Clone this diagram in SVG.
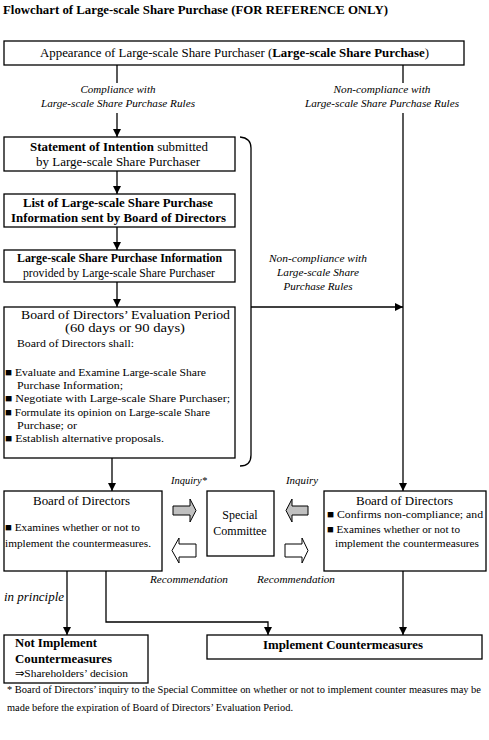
<svg xmlns="http://www.w3.org/2000/svg" width="489" height="740" viewBox="0 0 489 740" font-family="'Liberation Serif', 'Times New Roman', serif">
<defs>
<marker id="ah" markerUnits="userSpaceOnUse" markerWidth="9" markerHeight="9" refX="8" refY="4" orient="auto">
<path d="M0,0 L8,4 L0,8 z" fill="#000"/>
</marker>
<style>
text{font-family:'Liberation Serif','Times New Roman',serif;fill:#000}
.box{fill:#fff;stroke:#000;stroke-width:1.3}
.ln{fill:none;stroke:#000;stroke-width:1.3}
.ar{marker-end:url(#ah)}
.t{font-size:12px}
.b{font-weight:bold}
.c{text-anchor:middle}
.i{font-style:italic;font-size:10px}
.s{font-size:11px}
.f{font-size:10px}
.g{fill:#c0c0c0;stroke:#000;stroke-width:1}
.w{fill:#fff;stroke:#000;stroke-width:1}
</style>
</defs>
<rect width="489" height="740" fill="#fff"/>
<text x="3" y="14" font-size="13" font-weight="bold" textLength="385" lengthAdjust="spacingAndGlyphs">Flowchart of Large-scale Share Purchase (FOR REFERENCE ONLY)</text>

<g id="connectors">
<path class="ln" d="M117,65 V83"/>
<path class="ln ar" d="M117,113 V137"/>
<path class="ln" d="M403,65 V83"/>
<path class="ln ar" d="M403,113 V491"/>
<path class="ln ar" d="M117,171 V194"/>
<path class="ln ar" d="M117,227 V250"/>
<path class="ln ar" d="M117,282 V307"/>
<path class="ln" d="M240,137 Q251,138 251,148 V455 Q251,466 240,466"/>
<path class="ln ar" d="M251,307 H403"/>
<path class="ln ar" d="M112,458 V491"/>
<path class="ln ar" d="M67,571 V635"/>
<path class="ln ar" d="M106,571 V622 H268 V635"/>
<path class="ln ar" d="M403,571 V635"/>
<polygon class="g" points="173,506 190,506 190,499 196,510.5 190,522 190,515 173,515"/>
<polygon class="g" points="308,506 292,506 292,499 286,510.5 292,522 292,515 308,515"/>
<polygon class="w" points="196,544 179,544 179,538 172,550.5 179,563 179,557 196,557"/>
<polygon class="w" points="285,544 302,544 302,538 308,550.5 302,563 302,557 285,557"/>
<text class="i c" x="118" y="93" textLength="75" lengthAdjust="spacingAndGlyphs">Compliance with</text>
<text class="i c" x="118" y="107" textLength="154" lengthAdjust="spacingAndGlyphs">Large-scale Share Purchase Rules</text>
<text class="i c" x="382" y="93" textLength="97" lengthAdjust="spacingAndGlyphs">Non-compliance with</text>
<text class="i c" x="382" y="107" textLength="154" lengthAdjust="spacingAndGlyphs">Large-scale Share Purchase Rules</text>
<text class="i c" x="318" y="262" textLength="98" lengthAdjust="spacingAndGlyphs">Non-compliance with</text>
<text class="i c" x="318" y="276" textLength="82" lengthAdjust="spacingAndGlyphs">Large-scale Share</text>
<text class="i c" x="318" y="290" textLength="69" lengthAdjust="spacingAndGlyphs">Purchase Rules</text>
<text class="i" x="171" y="484" textLength="36" lengthAdjust="spacingAndGlyphs">Inquiry*</text>
<text class="i" x="286" y="484" textLength="32" lengthAdjust="spacingAndGlyphs">Inquiry</text>
<text class="i" x="150" y="583" textLength="78" lengthAdjust="spacingAndGlyphs">Recommendation</text>
<text class="i" x="257" y="583" textLength="78" lengthAdjust="spacingAndGlyphs">Recommendation</text>
<text x="4" y="601" font-size="12" font-style="italic" textLength="60" lengthAdjust="spacingAndGlyphs">in principle</text>
</g>

<g id="appearance">
<rect class="box" x="4" y="41" width="460" height="24"/>
<text class="t" x="40" y="57" textLength="389" lengthAdjust="spacingAndGlyphs">Appearance of Large-scale Share Purchaser (<tspan class="b">Large-scale Share Purchase</tspan>)</text>
</g>

<g id="statement">
<rect class="box" x="4" y="137" width="231" height="34"/>
<text class="t" x="30" y="151" textLength="178" lengthAdjust="spacingAndGlyphs"><tspan class="b">Statement of Intention</tspan> submitted</text>
<text class="t" x="36" y="166" textLength="164" lengthAdjust="spacingAndGlyphs">by Large-scale Share Purchaser</text>
</g>

<g id="list">
<rect class="box" x="4" y="194" width="231" height="33"/>
<text class="t b" x="23" y="207" textLength="190" lengthAdjust="spacingAndGlyphs">List of Large-scale Share Purchase</text>
<text class="t b" x="11" y="222" textLength="215" lengthAdjust="spacingAndGlyphs">Information sent by Board of Directors</text>
</g>

<g id="info">
<rect class="box" x="4" y="250" width="231" height="32"/>
<text class="t b" x="17" y="262" textLength="205" lengthAdjust="spacingAndGlyphs">Large-scale Share Purchase Information</text>
<text class="t" x="23" y="277" textLength="192" lengthAdjust="spacingAndGlyphs">provided by Large-scale Share Purchaser</text>
</g>

<g id="evaluation">
<rect class="box" x="4" y="307" width="231" height="151"/>
<text class="t" x="21" y="319" textLength="209" lengthAdjust="spacingAndGlyphs">Board of Directors’ Evaluation Period</text>
<text class="t" x="65" y="332" textLength="120" lengthAdjust="spacingAndGlyphs">(60 days or 90 days)</text>
<text class="s" x="17" y="347" textLength="117" lengthAdjust="spacingAndGlyphs">Board of Directors shall:</text>
<text class="s" x="5" y="376" textLength="201" lengthAdjust="spacingAndGlyphs">■ Evaluate and Examine Large-scale Share</text>
<text class="s" x="17" y="389" textLength="106" lengthAdjust="spacingAndGlyphs">Purchase Information;</text>
<text class="s" x="5" y="402" textLength="225" lengthAdjust="spacingAndGlyphs">■ Negotiate with Large-scale Share Purchaser;</text>
<text class="s" x="5" y="416" textLength="205" lengthAdjust="spacingAndGlyphs">■ Formulate its opinion on Large-scale Share</text>
<text class="s" x="17" y="429" textLength="60" lengthAdjust="spacingAndGlyphs">Purchase; or</text>
<text class="s" x="5" y="442" textLength="159" lengthAdjust="spacingAndGlyphs">■ Establish alternative proposals.</text>
</g>

<g id="board-left">
<rect class="box" x="4" y="491" width="158" height="80"/>
<text class="t" x="33" y="505" textLength="97" lengthAdjust="spacingAndGlyphs">Board of Directors</text>
<text class="s" x="5" y="531" textLength="135" lengthAdjust="spacingAndGlyphs">■ Examines whether or not to</text>
<text class="s" x="5" y="547" textLength="146" lengthAdjust="spacingAndGlyphs">implement the countermeasures.</text>
</g>

<g id="special-committee">
<rect class="box" x="207" y="491" width="67" height="65"/>
<text class="t c" x="240" y="519">Special</text>
<text class="t c" x="240" y="535">Committee</text>
</g>

<g id="board-right">
<rect class="box" x="324" y="491" width="162" height="80"/>
<text class="t" x="356" y="505" textLength="97" lengthAdjust="spacingAndGlyphs">Board of Directors</text>
<text class="s" x="327" y="518" textLength="156" lengthAdjust="spacingAndGlyphs">■ Confirms non-compliance; and</text>
<text class="s" x="327" y="533" textLength="133" lengthAdjust="spacingAndGlyphs">■ Examines whether or not to</text>
<text class="s" x="335" y="547" textLength="144" lengthAdjust="spacingAndGlyphs">implement the countermeasures</text>
</g>

<g id="not-implement">
<rect class="box" x="4" y="635" width="144" height="48"/>
<text class="t b" x="15" y="647" textLength="82" lengthAdjust="spacingAndGlyphs">Not Implement</text>
<text class="t b" x="15" y="663" textLength="97" lengthAdjust="spacingAndGlyphs">Countermeasures</text>
<text class="s" x="15" y="677" textLength="113" lengthAdjust="spacingAndGlyphs">⇒Shareholders’ decision</text>
</g>

<g id="implement">
<rect class="box" x="207" y="635" width="275" height="24"/>
<text class="t b" x="263" y="649" textLength="160" lengthAdjust="spacingAndGlyphs">Implement Countermeasures</text>
</g>

<text class="f" x="7" y="693" textLength="474" lengthAdjust="spacingAndGlyphs">* Board of Directors’ inquiry to the Special Committee on whether or not to implement counter measures  may be</text>
<text class="f" x="7" y="711" textLength="286" lengthAdjust="spacingAndGlyphs">made before the expiration of Board of Directors’ Evaluation Period.</text>
</svg>
